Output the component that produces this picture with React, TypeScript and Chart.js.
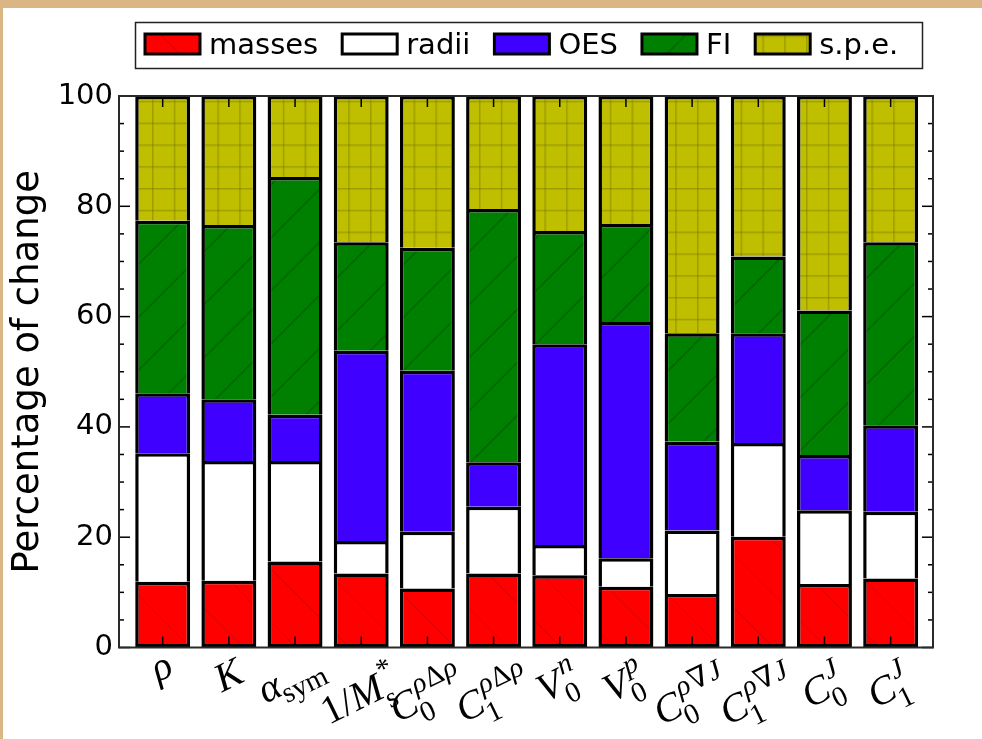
import { useEffect, useRef } from 'react';
import { Chart, registerables } from 'chart.js';

Chart.register(...registerables);

// ---------- data ----------
const categories = ['rho', 'K', 'a_sym', '1/M*_s', 'C0^rhoDeltarho', 'C1^rhoDeltarho', 'V0^n', 'V0^p', 'C0^rhoNablaJ', 'C1^rhoNablaJ', 'C0^J', 'C1^J'];
const seriesNames = ['masses', 'radii', 'OES', 'FI', 's.p.e.'];
const masses = [11.9, 12.1, 15.6, 13.4, 10.7, 13.4, 13.1, 11.0, 9.7, 20.1, 11.5, 12.5];
const radii = [23.3, 21.7, 18.2, 5.9, 10.3, 12.1, 5.5, 5.2, 11.5, 17.0, 13.4, 12.1];
const oes = [10.9, 11.2, 8.4, 34.5, 29.2, 8.1, 36.4, 42.8, 16.1, 19.9, 10.0, 15.7];
const fi = [31.3, 31.6, 43.1, 19.7, 22.3, 45.9, 20.5, 17.8, 19.7, 13.9, 26.2, 33.2];
const spe = [22.6, 23.4, 14.7, 26.5, 27.5, 20.5, 24.5, 23.2, 43.0, 29.1, 38.9, 26.5];
const yMajorTicks = [0, 20, 40, 60, 80, 100];
const yMinorStep = 5;
const yTitle = 'Percentage of change';

type Run = { t: string; it: boolean };
type MathLabel = { base: Run[]; sub?: Run[]; sup?: Run[] };
const R = (t: string): Run => ({ t, it: false });
const I = (t: string): Run => ({ t, it: true });
const tickLabels: MathLabel[] = [
  { base: [I('ρ')] },
  { base: [I('K')] },
  { base: [I('α')], sub: [R('sym')] },
  { base: [R('1/'), I('M')], sup: [R('*')], sub: [R('s')] },
  { base: [I('C')], sub: [R('0')], sup: [I('ρ'), R('Δ'), I('ρ')] },
  { base: [I('C')], sub: [R('1')], sup: [I('ρ'), R('Δ'), I('ρ')] },
  { base: [I('V')], sub: [R('0')], sup: [I('n')] },
  { base: [I('V')], sub: [R('0')], sup: [I('p')] },
  { base: [I('C')], sub: [R('0')], sup: [I('ρ'), R('∇'), I('J')] },
  { base: [I('C')], sub: [R('1')], sup: [I('ρ'), R('∇'), I('J')] },
  { base: [I('C')], sub: [R('0')], sup: [I('J')] },
  { base: [I('C')], sub: [R('1')], sup: [I('J')] },
];

const COLORS = ['#ff0000', '#ffffff', '#4000ff', '#008000', '#bfbf00'];

function makePatterns(): (string | CanvasPattern)[] {
  const out: (string | CanvasPattern)[] = [];
  const tmp = document.createElement('canvas').getContext('2d')!;
  {
    const s = 53;
    const c = document.createElement('canvas');
    c.width = s; c.height = s;
    const g = c.getContext('2d')!;
    g.fillStyle = COLORS[0]; g.fillRect(0, 0, s, s);
    g.strokeStyle = 'rgba(140,0,0,0.3)'; g.lineWidth = 1;
    for (const o of [-s, 0, s]) { g.beginPath(); g.moveTo(o - 1, -1); g.lineTo(o + s + 1, s + 1); g.stroke(); }
    const p = tmp.createPattern(c, 'repeat')!;
    p.setTransform(new DOMMatrix([1, 0, 0, 1, 20, 0]));
    out.push(p);
  }
  out.push(COLORS[1]);
  out.push(COLORS[2]);
  {
    const s = 53;
    const c = document.createElement('canvas');
    c.width = s; c.height = s;
    const g = c.getContext('2d')!;
    g.fillStyle = COLORS[3]; g.fillRect(0, 0, s, s);
    g.strokeStyle = 'rgba(0,60,0,0.5)'; g.lineWidth = 1.1;
    for (const o of [0, s, 2 * s]) { g.beginPath(); g.moveTo(-1, o + 1); g.lineTo(o + 1, -1); g.stroke(); }
    const p = tmp.createPattern(c, 'repeat')!;
    p.setTransform(new DOMMatrix([1, 0, 0, 1, 31.7, 0]));
    out.push(p);
  }
  {
    const s = 22;
    const c = document.createElement('canvas');
    c.width = s; c.height = s;
    const g = c.getContext('2d')!;
    g.fillStyle = COLORS[4]; g.fillRect(0, 0, s, s);
    g.strokeStyle = 'rgba(110,110,0,0.4)'; g.lineWidth = 1.5;
    g.beginPath(); g.moveTo(0.75, 0); g.lineTo(0.75, s); g.stroke();
    g.beginPath(); g.moveTo(0, 0.75); g.lineTo(s, 0.75); g.stroke();
    const k = 21.8 / 22;
    const p = tmp.createPattern(c, 'repeat')!;
    p.setTransform(new DOMMatrix([k, 0, 0, k, -0.64, 13.56]));
    out.push(p);
  }
  return out;
}

const ROT = (-26 * Math.PI) / 180;
const BASE = 40;

function drawMathLabel(ctx: CanvasRenderingContext2D, lab: MathLabel, cx: number, topY: number) {
  const f = BASE;
  const sf = f * 0.72;
  const fontOf = (r: Run, size: number) => `${r.it ? 'italic ' : ''}${size}px "Liberation Serif", "DejaVu Serif", serif`;
  const items: { t: string; font: string; x: number; y: number; m: TextMetrics }[] = [];
  let x = 0;
  for (const r of lab.base) {
    const font = fontOf(r, f);
    ctx.font = font;
    const m = ctx.measureText(r.t);
    items.push({ t: r.t, font, x, y: 0, m });
    x += m.width;
  }
  const lastIt = lab.base[lab.base.length - 1].it;
  if (lab.sup) {
    let xs = x + (lastIt ? f * 0.07 : 0.02 * f);
    const y = lab.sub ? -f * 0.44 : -f * 0.42;
    for (const r of lab.sup) {
      const font = fontOf(r, sf);
      ctx.font = font;
      const m = ctx.measureText(r.t);
      items.push({ t: r.t, font, x: xs, y, m });
      xs += m.width + f * 0.02;
    }
  }
  if (lab.sub) {
    let xs = x - (lastIt ? f * 0.04 : 0);
    const y = lab.sup ? f * 0.3 : f * 0.22;
    for (const r of lab.sub) {
      const font = fontOf(r, sf);
      ctx.font = font;
      const m = ctx.measureText(r.t);
      items.push({ t: r.t, font, x: xs, y, m });
      xs += m.width;
    }
  }
  let x0 = Infinity, x1 = -Infinity, y0 = Infinity, y1 = -Infinity;
  for (const it of items) {
    x0 = Math.min(x0, it.x - it.m.actualBoundingBoxLeft);
    x1 = Math.max(x1, it.x + it.m.actualBoundingBoxRight);
    y0 = Math.min(y0, it.y - it.m.actualBoundingBoxAscent);
    y1 = Math.max(y1, it.y + it.m.actualBoundingBoxDescent);
  }
  const cs = Math.cos(ROT), sn = Math.sin(ROT);
  let rx0 = Infinity, rx1 = -Infinity, ry0 = Infinity;
  for (const [px, py] of [[x0, y0], [x1, y0], [x0, y1], [x1, y1]]) {
    const X = px * cs - py * sn;
    const Y = px * sn + py * cs;
    rx0 = Math.min(rx0, X); rx1 = Math.max(rx1, X); ry0 = Math.min(ry0, Y);
  }
  const tx = cx - (rx0 + rx1) / 2;
  const ty = topY - ry0;
  ctx.save();
  ctx.translate(tx, ty);
  ctx.rotate(ROT);
  ctx.fillStyle = '#000';
  ctx.textBaseline = 'alphabetic';
  ctx.textAlign = 'left';
  for (const it of items) {
    ctx.font = it.font;
    ctx.fillText(it.t, it.x, it.y);
  }
  ctx.restore();
}

export default function App() {
  const ref = useRef<HTMLCanvasElement | null>(null);
  useEffect(() => {
    const canvas = ref.current;
    if (!canvas) return;
    const fills = makePatterns();
    const series = [masses, radii, oes, fi, spe];

    const decor = {
      id: 'decor',
      afterDatasetsDraw(chart: any) {
        const { ctx, chartArea, scales } = chart;
        const { left, right, top, bottom } = chartArea;
        const xs = scales.x, ys = scales.y;
        ctx.save();
        ctx.strokeStyle = '#000';
        ctx.lineWidth = 1.5;
        const yMax = yMajorTicks[yMajorTicks.length - 1];
        for (let v = yMajorTicks[0]; v <= yMax; v += yMinorStep) {
          const py = ys.getPixelForValue(v);
          const len = yMajorTicks.includes(v) ? 11 : 5;
          ctx.beginPath(); ctx.moveTo(left, py); ctx.lineTo(left + len, py); ctx.stroke();
          ctx.beginPath(); ctx.moveTo(right, py); ctx.lineTo(right - len, py); ctx.stroke();
        }
        categories.forEach((_, i) => {
          const px = xs.getPixelForValue(i);
          ctx.beginPath(); ctx.moveTo(px, bottom); ctx.lineTo(px, bottom - 11); ctx.stroke();
          ctx.beginPath(); ctx.moveTo(px, top); ctx.lineTo(px, top + 11); ctx.stroke();
        });
        ctx.strokeStyle = '#2a2a2a';
        ctx.lineWidth = 2;
        ctx.strokeRect(left, top, right - left, bottom - top);
        tickLabels.forEach((lab, i) => {
          drawMathLabel(ctx, lab, xs.getPixelForValue(i), bottom + 9);
        });
        const boxL = 135, boxT = 22, boxW = 787, boxH = 46;
        ctx.fillStyle = '#fff';
        ctx.fillRect(boxL, boxT, boxW, boxH);
        ctx.strokeStyle = '#222';
        ctx.lineWidth = 1.5;
        ctx.strokeRect(boxL + 0.5, boxT + 0.5, boxW, boxH);
        ctx.textBaseline = 'alphabetic';
        ctx.textAlign = 'left';
        let lx = 145;
        seriesNames.forEach((name, k) => {
          ctx.fillStyle = fills[k] as any;
          ctx.fillRect(lx, 34, 55, 20);
          ctx.strokeStyle = '#000';
          ctx.lineWidth = 3;
          ctx.strokeRect(lx, 34, 55, 20);
          ctx.fillStyle = '#000';
          ctx.font = '29px "DejaVu Sans", sans-serif';
          const tx = lx + 55 + 9;
          ctx.fillText(name, tx, 54);
          lx = tx + ctx.measureText(name).width + 24;
        });
        ctx.restore();
      },
    };

    const chart = new Chart(canvas, {
      type: 'bar',
      data: {
        datasets: series.map((vals, k) => ({
          label: seriesNames[k],
          data: vals.map((v, i) => ({ x: i, y: v })),
          backgroundColor: fills[k] as any,
          borderColor: '#000',
          borderWidth: 3.5,
          borderSkipped: k === 0 ? false : 'start',
          barPercentage: 0.83,
          categoryPercentage: 1,
        })),
      },
      options: {
        animation: false,
        responsive: false,
        devicePixelRatio: 1,
        layout: { padding: { top: 96, right: 49, bottom: 91.5, left: 0 } },
        plugins: { legend: { display: false }, tooltip: { enabled: false } },
        scales: {
          x: {
            type: 'linear',
            display: false,
            stacked: true,
            offset: false,
            grid: { offset: false },
            min: -0.66,
            max: 11.64,
          },
          y: {
            stacked: true,
            min: 0,
            max: 100,
            afterFit: (s: any) => { s.width = 119; },
            afterBuildTicks: (s: any) => { s.ticks = yMajorTicks.map((v) => ({ value: v })); },
            grid: { display: false, drawTicks: false },
            border: { display: false },
            ticks: {
              font: { family: 'DejaVu Sans', size: 29 },
              color: '#000',
              padding: 6,
            },
            title: {
              display: true,
              text: yTitle,
              font: { family: 'DejaVu Sans', size: 37 },
              color: '#000',
              padding: { top: 6, bottom: 0 },
            },
          },
        },
      },
      plugins: [decor],
    } as any);
    return () => chart.destroy();
  }, []);

  return (
    <div style={{ position: 'fixed', left: 0, top: 0, width: 982, height: 739, background: '#dcb584', overflow: 'hidden' }}>
      <div style={{ position: 'absolute', left: 3, top: 8, width: 979, height: 731, background: '#fff' }} />
      <canvas ref={ref} width={982} height={739} style={{ position: 'absolute', left: 0, top: 0, width: 982, height: 739 }} />
    </div>
  );
}
